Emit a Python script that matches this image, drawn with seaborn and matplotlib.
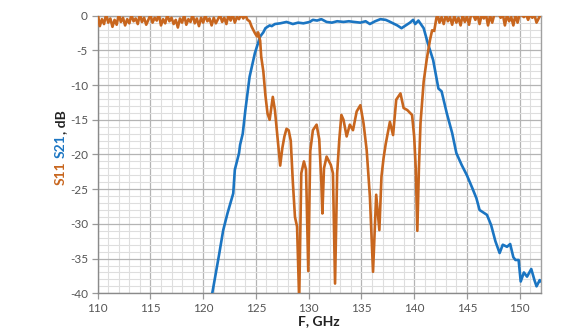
import numpy as np
import pandas as pd
import matplotlib
matplotlib.use("Agg")
import matplotlib.pyplot as plt
from matplotlib.ticker import MultipleLocator
import seaborn as sns

# ---- data ----
s11_freq = [
    110.0, 110.2, 110.4, 110.6, 110.8, 111.0, 111.2, 111.4, 111.6, 111.8,
    112.0, 112.2, 112.4, 112.6, 112.8, 113.0, 113.2, 113.4, 113.6, 113.8,
    114.0, 114.2, 114.4, 114.6, 114.8, 115.0, 115.2, 115.4, 115.6, 115.8,
    116.0, 116.2, 116.4, 116.6, 116.8, 117.0, 117.2, 117.4, 117.6, 117.8,
    118.0, 118.2, 118.4, 118.6, 118.8, 119.0, 119.2, 119.4, 119.6, 119.8,
    120.0, 120.2, 120.4, 120.6, 120.8, 121.0, 121.2, 121.4, 121.6, 121.8,
    122.0, 122.2, 122.4, 122.6, 122.8, 123.0, 123.2, 123.4, 123.6, 123.8,
    124.0, 124.2, 124.4, 124.6, 124.9, 125.1, 125.2, 125.4, 125.5, 125.7,
    125.9, 126.1, 126.3, 126.6, 126.8, 127.1, 127.3, 127.5, 127.7, 127.9,
    128.1, 128.3, 128.5, 128.7, 128.9, 129.1, 129.3, 129.55, 129.75, 129.96,
    130.15, 130.4, 130.75, 131.0, 131.2, 131.3, 131.45, 131.7, 132.1, 132.3,
    132.5, 132.7, 132.9, 133.1, 133.3, 133.6, 133.9, 134.2, 134.55, 134.9,
    135.2, 135.5, 135.8, 136.1, 136.4, 136.7, 136.9, 137.1, 137.3, 137.7,
    138.0, 138.3, 138.7, 139.0, 139.35, 139.8, 140.0, 140.15, 140.3, 140.45,
    140.6, 140.9, 141.2, 141.5, 141.7, 141.9, 142.1, 142.2, 142.4, 142.6,
    142.8, 143.0, 143.2, 143.4, 143.6, 143.8, 144.0, 144.2, 144.4, 144.6,
    144.8, 145.0, 145.2, 145.4, 145.6, 145.8, 146.0, 146.2, 146.4, 146.6,
    146.8, 147.0, 147.2, 147.4, 147.6, 147.8, 148.0, 148.2, 148.4, 148.6,
    148.8, 149.0, 149.2, 149.4, 149.6, 149.8, 150.0, 150.2, 150.4, 150.6,
    150.8, 151.0, 151.2, 151.4, 151.6, 151.8, 152.0,
]
s11_db = [
    0.3, -1.5, -0.5, -1.2, 0.2, -1.0, -0.4, -1.6, -0.6, -1.3,
    0.2, -0.9, -0.3, -1.4, -0.5, -1.1, 0.1, -0.8, -0.4, -1.2,
    0.2, -0.9, -0.3, -1.3, -0.6, 0.1, -1.0, -0.3, -0.7, 0.2,
    -1.4, -0.5, -1.1, 0.1, -0.8, -0.3, -1.2, -0.6, -1.7, -0.4,
    -1.0, 0.1, -1.3, -0.5, -0.9, 0.2, -1.1, -0.4, -1.5, -0.3,
    -1.0, 0.1, -0.8, -0.4, -1.4, -0.3, -1.1, -0.5, 0.1, -0.9,
    -0.3, -1.2, 0.1, -0.7, 0.2, -1.0, -0.2, -0.5, 0.2, -0.4,
    0.1, -0.6, -0.8, -1.6, -2.5, -3.0, -2.4, -3.6, -5.9, -8.0,
    -11.5, -14.1, -15.0, -11.7, -13.6, -18.4, -21.6, -19.1, -17.4, -16.3,
    -16.5, -18.0, -24.0, -29.0, -30.4, -41.0, -22.7, -21.0, -22.2, -36.8,
    -19.5, -16.5, -15.7, -17.8, -24.0, -28.5, -22.0, -20.3, -21.5, -22.7,
    -38.6, -22.7, -17.9, -14.3, -15.0, -17.4, -15.7, -16.5, -13.8, -12.9,
    -15.5, -19.4, -26.0, -36.9, -25.8, -30.9, -23.2, -20.5, -18.5, -15.3,
    -17.2, -12.1, -11.2, -13.3, -13.6, -14.3, -17.4, -22.0, -31.0, -22.0,
    -15.5, -9.5, -6.2, -3.5, -2.1, -2.2, -0.4, 0.2, -1.0, -0.2,
    -1.2, 0.1, -0.8, -0.2, -1.3, 0.0, -1.0, -0.3, -1.4, 0.1,
    -0.9, -0.1, -1.3, 0.2, 0.1, -0.6, 0.2, -1.2, 0.1, -0.4,
    0.2, -1.4, 0.0, -1.0, 0.2, 0.1, 0.3, -0.3, 0.2, -1.4,
    0.1, -0.8, -0.2, -1.4, 0.1, -1.0, 0.2, 0.1, -0.2, 0.2,
    -0.6, 0.2, -0.3, 0.1, -1.0, -0.4, 0.2,
]

s21_freq = [
    120.6, 120.86, 121.14, 121.5, 121.9, 122.3, 122.85, 123.0, 123.4, 123.5,
    123.75, 124.0, 124.4, 124.9, 125.4, 125.7, 125.9, 126.3, 126.5, 126.8,
    127.3, 127.9, 128.5, 129.0, 129.5, 130.1, 130.4, 130.8, 131.2, 131.7,
    132.2, 132.7, 133.3, 133.8, 134.3, 134.9, 135.4, 135.8, 136.3, 136.8,
    137.3, 137.6, 138.0, 138.4, 138.8, 139.2, 139.6, 139.9, 140.1, 140.4,
    140.9, 141.3, 141.8, 142.3, 142.6, 143.1, 143.6, 144.0, 144.5, 145.0,
    145.5, 145.9, 146.2, 146.9, 147.3, 147.7, 148.1, 148.4, 148.8, 149.1,
    149.4, 149.6, 149.9, 150.1, 150.4, 150.7, 151.1, 151.4, 151.6, 151.9,
    152.0,
]
s21_db = [
    -42.0, -40.0, -37.6, -34.5, -30.9, -28.5, -25.6, -22.2, -19.8, -18.6,
    -17.0, -13.6, -8.8, -5.4, -3.0, -2.4, -1.8, -1.4, -1.5, -1.2,
    -1.1, -0.9, -1.2, -1.0, -1.1, -0.9, -0.6, -0.7, -0.5, -0.9,
    -1.0, -0.8, -0.9, -0.8, -0.9, -1.0, -0.8, -1.2, -0.8, -0.5,
    -0.6, -0.8, -1.1, -1.4, -1.8, -1.4, -1.0, -0.6, -1.2, -0.7,
    -1.8, -4.0, -6.4, -10.5, -10.9, -14.1, -16.9, -19.8, -21.5, -23.0,
    -24.8, -26.3, -28.0, -28.7, -30.2, -32.5, -34.2, -33.0, -33.3, -32.9,
    -34.8, -35.2, -35.2, -38.3, -37.0, -37.6, -36.5, -38.1, -39.0, -38.1,
    -38.3,
]

x_ticks = [110, 115, 120, 125, 130, 135, 140, 145, 150]
y_ticks = [0, -5, -10, -15, -20, -25, -30, -35, -40]

S11_COLOR = "#C8661E"
S21_COLOR = "#1B75C2"

# ---- plotting ----
sns.set_theme(style="white")
plt.rcParams["font.family"] = ["Lato", "DejaVu Sans"]

fig = plt.figure(figsize=(5.86, 3.34), dpi=100)
ax = fig.add_axes([0.1667, 0.1219, 0.7561, 0.8311])

df11 = pd.DataFrame({"F": s11_freq, "dB": s11_db})
df21 = pd.DataFrame({"F": s21_freq, "dB": s21_db})
sns.lineplot(data=df21, x="F", y="dB", ax=ax, color=S21_COLOR, lw=1.9, zorder=3)
sns.lineplot(data=df11, x="F", y="dB", ax=ax, color=S11_COLOR, lw=1.9, zorder=4)

ax.set_xlim(110, 152)
ax.set_ylim(-40, 0)
ax.set_xticks(x_ticks)
ax.set_yticks(y_ticks)
ax.set_xticklabels([str(t) for t in x_ticks])
ax.set_yticklabels([str(t) for t in y_ticks])
ax.xaxis.set_minor_locator(MultipleLocator(1))
ax.yaxis.set_minor_locator(MultipleLocator(1))
ax.grid(which="major", color="#b4b4b4", lw=0.9, zorder=0)
ax.grid(which="minor", color="#dedede", lw=0.8, zorder=0)
ax.set_axisbelow(True)
ax.tick_params(axis="both", which="major", length=4, width=0.9, color="#999999",
               labelsize=8.5, labelcolor="#555555", pad=3, direction="out")
ax.tick_params(axis="both", which="minor", length=0)
ax.tick_params(axis="x", bottom=True)
ax.tick_params(axis="y", left=True)
for side in ["left", "bottom", "top", "right"]:
    ax.spines[side].set_visible(True)
    ax.spines[side].set_color("#a0a0a0")
    ax.spines[side].set_linewidth(1.0)
ax.spines["left"].set_color("#8a8a8a")
ax.spines["bottom"].set_color("#8a8a8a")

ax.set_xlabel("F, GHz", fontsize=10, fontweight="bold", color="#222222", labelpad=1)
ax.set_ylabel("")

# multi-coloured y label
fs = 10
fig.text(61 / 586, 1 - 173 / 334, "S11", rotation=90, color=S11_COLOR,
         fontsize=fs, fontweight="bold", ha="center", va="center")
fig.text(61 / 586, 1 - 146 / 334, "S21", rotation=90, color=S21_COLOR,
         fontsize=fs, fontweight="bold", ha="center", va="center")
fig.text(61 / 586, 1 - 122 / 334, ", dB", rotation=90, color="#222222",
         fontsize=fs, fontweight="bold", ha="center", va="center")

fig.savefig("out.png", dpi=100)
